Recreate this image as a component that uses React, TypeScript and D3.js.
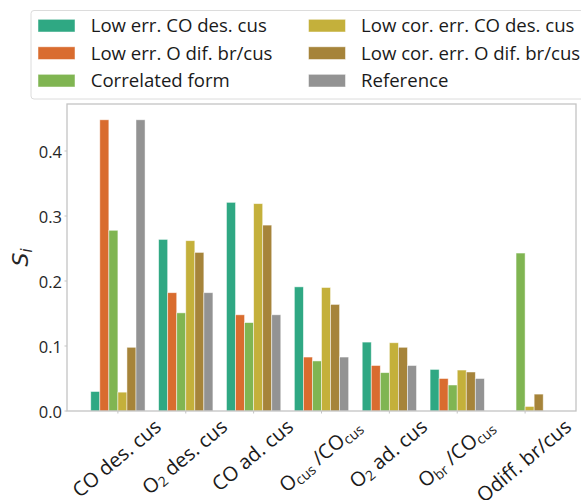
import React, { useEffect, useRef } from 'react';
import * as d3 from 'd3';

// ---- data ----
type Seg = { t: string; sub?: boolean };
const categoryLabels: Seg[][] = [
  [{ t: 'CO des. cus' }],
  [{ t: 'O' }, { t: '2', sub: true }, { t: ' des. cus' }],
  [{ t: 'CO ad. cus' }],
  [{ t: 'O' }, { t: 'cus', sub: true }, { t: ' /CO' }, { t: 'cus', sub: true }],
  [{ t: 'O' }, { t: '2', sub: true }, { t: ' ad. cus' }],
  [{ t: 'O' }, { t: 'br', sub: true }, { t: ' /CO' }, { t: 'cus', sub: true }],
  [{ t: 'Odiff. br/cus' }],
];
const seriesNames = [
  'Low err. CO des. cus',
  'Low err. O dif. br/cus',
  'Correlated form',
  'Low cor. err. CO des. cus',
  'Low cor. err. O dif. br/cus',
  'Reference',
];
const seriesColors = ['#2fa883', '#d96c2f', '#80b552', '#c4b03b', '#a6843a', '#939393'];
const lowErrCO = [0.030, 0.264, 0.321, 0.191, 0.106, 0.064, 0.0];
const lowErrO = [0.448, 0.182, 0.148, 0.083, 0.070, 0.050, 0.0];
const correlated = [0.278, 0.151, 0.136, 0.077, 0.059, 0.040, 0.243];
const lowCorCO = [0.029, 0.262, 0.319, 0.190, 0.105, 0.063, 0.007];
const lowCorO = [0.098, 0.244, 0.286, 0.164, 0.098, 0.060, 0.026];
const reference = [0.448, 0.182, 0.148, 0.083, 0.070, 0.050, 0.0];
const seriesValues = [lowErrCO, lowErrO, correlated, lowCorCO, lowCorO, reference];
const yTicks = [0.0, 0.1, 0.2, 0.3, 0.4];

const W = 581;
const H = 500;
const FONT = "'Open Sans', 'DejaVu Sans', sans-serif";

export default function App() {
  const ref = useRef<SVGSVGElement>(null);

  useEffect(() => {
    const svg = d3.select(ref.current!);
    svg.selectAll('*').remove();

    const left = 67, right = 576, top = 104, bottom = 411;
    const n = categoryLabels.length;
    const x = d3.scaleLinear().domain([-0.75, n - 0.25]).range([left, right]);
    const y = d3.scaleLinear().domain([0, 0.4723]).range([bottom, top]);
    const barW = 0.8 / seriesValues.length;

    // bars
    const g = svg.append('g');
    seriesValues.forEach((vals, si) => {
      g.selectAll(null)
        .data(vals)
        .enter()
        .append('rect')
        .attr('x', (_d, i) => x(i + (si - seriesValues.length / 2) * barW))
        .attr('width', x(barW) - x(0))
        .attr('y', (d) => y(d))
        .attr('height', (d) => y(0) - y(d))
        .attr('fill', seriesColors[si])
        .attr('stroke', '#ffffff')
        .attr('stroke-opacity', 0.6)
        .attr('stroke-width', 0.8);
    });

    // frame
    svg.append('rect')
      .attr('x', left).attr('y', top)
      .attr('width', right - left).attr('height', bottom - top)
      .attr('fill', 'none').attr('stroke', '#c4c4c4').attr('stroke-width', 1.3);

    // y ticks
    const yAxis = svg.append('g');
    yTicks.forEach((t) => {
      yAxis.append('line')
        .attr('x1', left - 2.5).attr('x2', left)
        .attr('y1', y(t)).attr('y2', y(t))
        .attr('stroke', '#c4c4c4').attr('stroke-width', 1);
      yAxis.append('text')
        .attr('x', left - 5).attr('y', y(t))
        .attr('dy', '0.42em')
        .attr('text-anchor', 'end')
        .attr('font-family', FONT)
        .attr('font-size', 16.5)
        .attr('fill', '#262626')
        .text(d3.format('.1f')(t));
    });

    // y label
    const yl = svg.append('text')
      .attr('transform', `translate(28,${(top + bottom) / 2}) rotate(-90)`)
      .attr('text-anchor', 'middle')
      .attr('font-family', "'DejaVu Sans', sans-serif")
      .attr('font-style', 'italic')
      .attr('fill', '#262626')
      .attr('font-size', 22);
    yl.append('tspan').text('S');
    yl.append('tspan').attr('font-size', 15).attr('dy', 4).text('i');

    // x ticks + labels
    const fs = 20;
    const rot = 40;
    const theta = (rot * Math.PI) / 180;
    const s = Math.sin(theta), c = Math.cos(theta);
    const asc = 0.78 * fs, desc = 0.26 * fs;
    const labelTop = bottom + 6;
    categoryLabels.forEach((segs, i) => {
      const cx = x(i);
      svg.append('line')
        .attr('x1', cx).attr('x2', cx)
        .attr('y1', bottom).attr('y2', bottom + 2.5)
        .attr('stroke', '#c4c4c4').attr('stroke-width', 1);
      const t = svg.append('text')
        .attr('font-family', FONT)
        .attr('font-size', fs)
        .attr('fill', '#1a1a1a');
      let shifted = false;
      segs.forEach((sg) => {
        const sp = t.append('tspan').text(sg.t);
        if (sg.sub) {
          sp.attr('font-size', fs * 0.7).attr('dy', shifted ? 0 : 3);
          shifted = true;
        } else if (shifted) {
          sp.attr('dy', -3);
          shifted = false;
        }
      });
      const tw = (t.node() as SVGTextElement).getComputedTextLength();
      const x0 = cx - (tw * c + (desc - asc) * s) / 2;
      const y0 = labelTop + tw * s + asc * c;
      t.attr('transform', `translate(${x0},${y0}) rotate(${-rot})`);
    });

    // legend
    const lg = svg.append('g');
    lg.append('rect')
      .attr('x', 31).attr('y', 10.5)
      .attr('width', 560).attr('height', 88.5)
      .attr('rx', 3)
      .attr('fill', '#ffffff').attr('fill-opacity', 0.85)
      .attr('stroke', '#dcdcdc').attr('stroke-width', 1);
    seriesNames.forEach((name, i) => {
      const col = Math.floor(i / 3);
      const row = i % 3;
      const sx = col === 0 ? 38 : 308.5;
      const sy = 19.3 + row * 27.5;
      lg.append('rect')
        .attr('x', sx).attr('y', sy)
        .attr('width', 37).attr('height', 12.7)
        .attr('fill', seriesColors[i])
        .attr('stroke', '#ffffff').attr('stroke-opacity', 0.6).attr('stroke-width', 0.8);
      lg.append('text')
        .attr('x', col === 0 ? 90.7 : 361)
        .attr('y', sy + 12.7)
        .attr('font-family', FONT)
        .attr('font-size', 18.6)
        .attr('fill', '#1a1a1a')
        .text(name);
    });
  }, []);

  return (
    <svg
      ref={ref}
      width={W}
      height={H}
      style={{ position: 'absolute', left: 0, top: 0, background: '#ffffff' }}
    />
  );
}
